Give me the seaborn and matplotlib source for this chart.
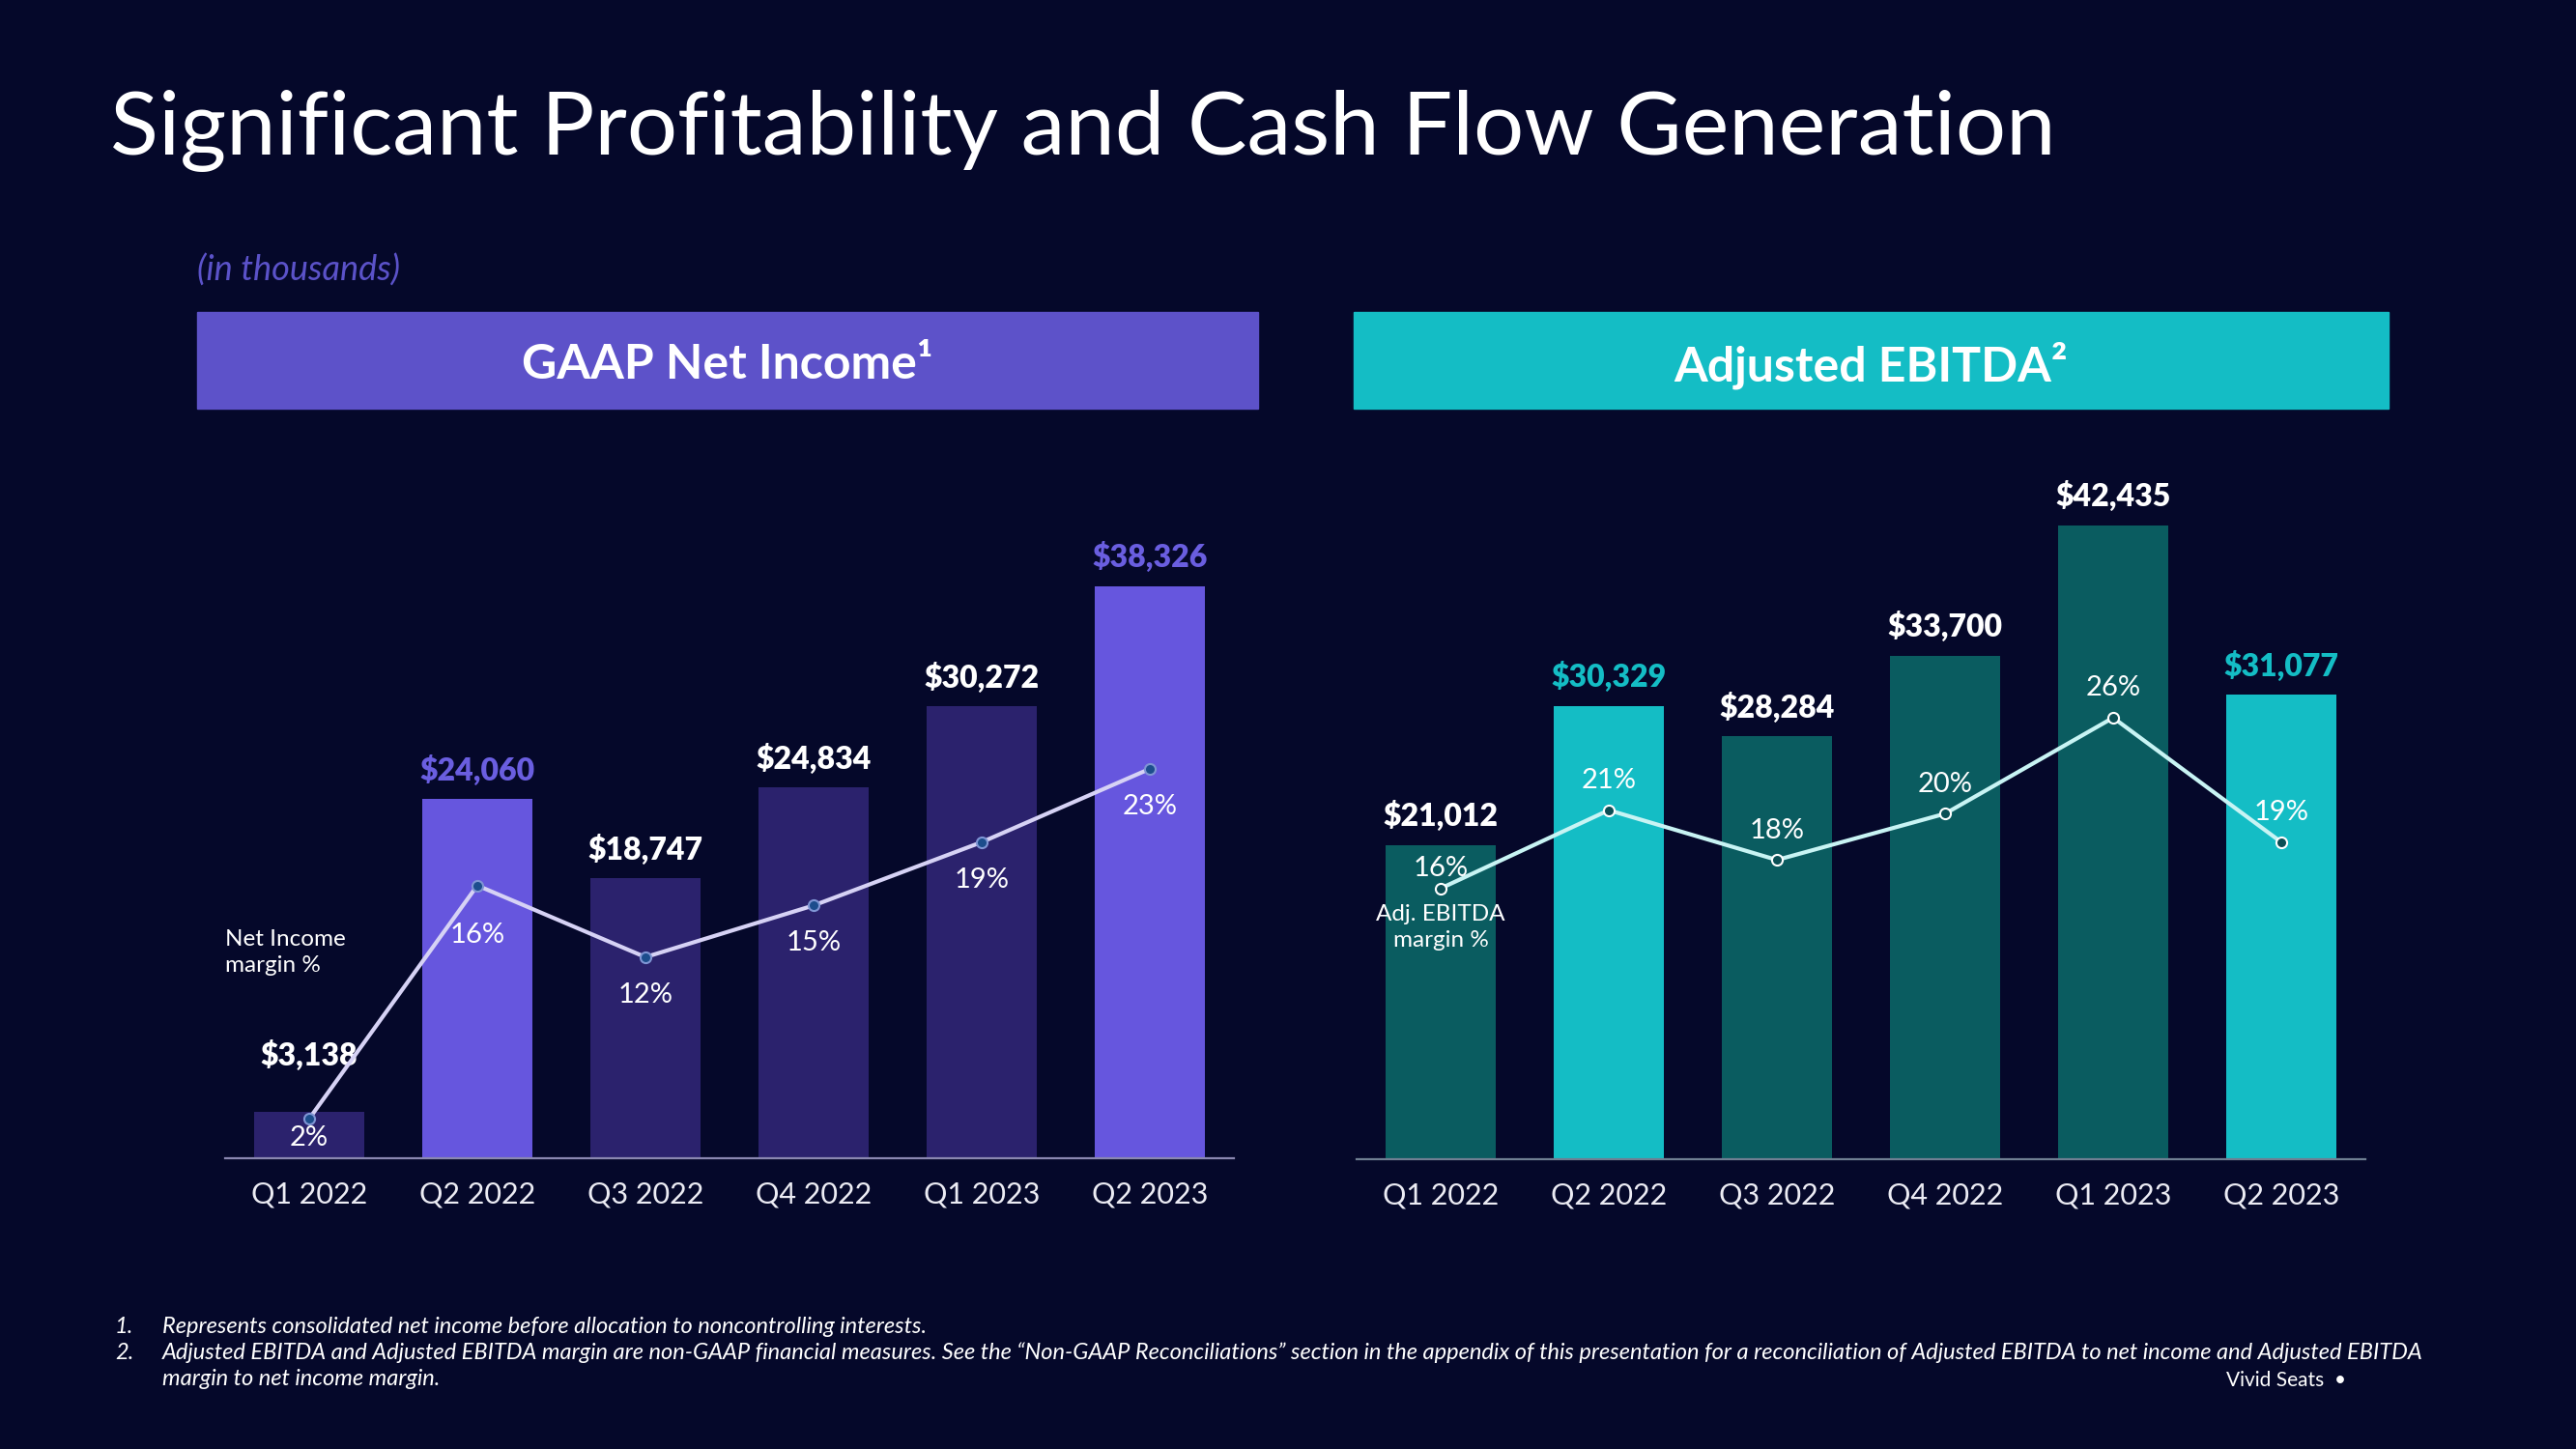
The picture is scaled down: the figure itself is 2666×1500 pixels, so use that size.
import numpy as np
import pandas as pd
import matplotlib
matplotlib.use("Agg")
import matplotlib.pyplot as plt
from matplotlib.patches import Rectangle
import seaborn as sns

# Data (in thousands)
quarters = ["Q1 2022", "Q2 2022", "Q3 2022", "Q4 2022", "Q1 2023", "Q2 2023"]
net_income = [3138, 24060, 18747, 24834, 30272, 38326]
net_income_margin = [2.0, 16.0, 11.7, 14.8, 18.6, 23.0]
adj_ebitda = [21012, 30329, 28284, 33700, 42435, 31077]
adj_ebitda_margin = [16.2, 20.6, 17.8, 20.4, 25.8, 18.8]
highlight = [False, True, False, False, False, True]

BG = "#05082a"
sns.set_theme(style="white")
plt.rcParams["font.family"] = ["Lato", "DejaVu Sans"]
plt.rcParams["axes.facecolor"] = BG
plt.rcParams["figure.facecolor"] = BG

fig = plt.figure(figsize=(26.66, 15), dpi=100)
W, H = 2666, 1500


def fx(px):
    return px / W


def fy(py):
    return 1 - py / H


# Title and subtitle
fig.text(fx(114), fy(135), "Significant Profitability and Cash Flow Generation",
         color="white", fontsize=66.3, va="center", ha="left")
fig.text(fx(204), fy(280), "(in thousands)", color="#5b52c9", fontsize=26,
         style="italic", va="center", ha="left")

# Header boxes
fig.patches.append(Rectangle((fx(204), fy(423)), fx(1098), 100 / H,
                             transform=fig.transFigure, color="#5d52c9", zorder=0))
fig.text(fx(753), fy(378), "GAAP Net Income\u00b9", color="white", fontsize=36,
         fontweight="bold", ha="center", va="center")
fig.patches.append(Rectangle((fx(1401), fy(423)), fx(1071), 100 / H,
                             transform=fig.transFigure, color="#14bdc5", zorder=0))
fig.text(fx(1936), fy(378), "Adjusted EBITDA\u00b2", color="white", fontsize=36,
         fontweight="bold", ha="center", va="center")


def panel(left_px, base_px, values, margins, dark, bright,
          line_color, mk_face, mk_edge, spine_color, m_lim):
    ax = fig.add_axes([fx(left_px), fy(base_px), fx(1044), (base_px - 493) / H])
    df = pd.DataFrame({"q": quarters, "v": values})
    colors = [bright if h else dark for h in highlight]
    sns.barplot(data=df, x="q", y="v", hue="q", palette=colors, legend=False,
                width=0.66, saturation=1, linewidth=0, edgecolor="none", ax=ax)
    ax.set_xlim(-0.5, 5.5)
    ax.set_ylim(0, 45700)
    ax.set_yticks([])
    ax.set_xlabel("")
    ax.set_ylabel("")
    for s in ["top", "left", "right"]:
        ax.spines[s].set_visible(False)
    ax.spines["bottom"].set_color(spine_color)
    ax.spines["bottom"].set_linewidth(1.6)
    ax.tick_params(axis="x", length=0, pad=17, labelsize=22, labelcolor="#ececf4")

    ax2 = ax.twinx()
    sns.lineplot(x=np.arange(len(margins)), y=margins, ax=ax2, color=line_color,
                 linewidth=3, marker="o", markersize=8, markerfacecolor=mk_face,
                 markeredgecolor=mk_edge, markeredgewidth=1.5, zorder=3)
    ax2.set_ylim(*m_lim)
    ax2.set_xlim(-0.5, 5.5)
    ax2.axis("off")
    return ax, ax2


# Left panel: GAAP Net Income
axL, axL2 = panel(233, 1199, net_income, net_income_margin, "#2b226d", "#6656de",
                  "#d6d2f5", "#1c4d8c", "#7f95d4", "#8a87b0", (-0.37, 40.56))
for i, v in enumerate(net_income):
    off = 42 if i == 0 else 22
    axL.annotate(f"${v:,}", (i, v), xytext=(0, off), textcoords="offset points",
                 ha="center", va="center", fontsize=23, fontweight="heavy",
                 color="#6a5ee0" if highlight[i] else "white")
for i, m in enumerate(net_income_margin):
    off = {0: -14, 1: -37}.get(i, -28)
    axL2.annotate(f"{round(m)}%", (i, m), xytext=(0, off), textcoords="offset points",
                  ha="center", va="center", fontsize=21, color="white")
axL.text(0.0, 0.302, "Net Income\nmargin %", transform=axL.transAxes, ha="left",
         va="center", fontsize=17.5, color="white", linespacing=1.35)

# Right panel: Adjusted EBITDA
axR, axR2 = panel(1404, 1200, adj_ebitda, adj_ebitda_margin, "#0a5c60", "#14bdc5",
                  "#c8f4f4", "#0b4f55", "white", "#6f7f92", (0.97, 39.38))
for i, v in enumerate(adj_ebitda):
    axR.annotate(f"${v:,}", (i, v), xytext=(0, 22), textcoords="offset points",
                 ha="center", va="center", fontsize=23, fontweight="heavy",
                 color="#14bdc5" if highlight[i] else "white")
for i, m in enumerate(adj_ebitda_margin):
    off = 15 if i == 0 else 22
    axR2.annotate(f"{round(m)}%", (i, m), xytext=(0, off), textcoords="offset points",
                  ha="center", va="center", fontsize=21, color="white")
axR2.annotate("Adj. EBITDA\nmargin %", (0, adj_ebitda_margin[0]), xytext=(0, -29),
              textcoords="offset points", ha="center", va="center", fontsize=17.5,
              color="white", linespacing=1.35)

# Footnotes
notes = [
    ("1.", "Represents consolidated net income before allocation to noncontrolling interests."),
    ("2.", "Adjusted EBITDA and Adjusted EBITDA margin are non-GAAP financial measures. See the \u201cNon-GAAP Reconciliations\u201d section in the appendix of this presentation for a reconciliation of Adjusted EBITDA to net income and Adjusted EBITDA"),
    ("", "margin to net income margin."),
]
for k, (num, txt) in enumerate(notes):
    y = fy(1373 + 27.5 * k)
    if num:
        fig.text(fx(119), y, num, color="white", fontsize=17, style="italic", va="center")
    fig.text(fx(168), y, txt, color="white", fontsize=17, style="italic", va="center")
fig.text(fx(2428), fy(1429), "Vivid Seats  \u2022", color="white", fontsize=15,
         ha="right", va="center")

fig.savefig("out.png", dpi=100, facecolor=BG)
